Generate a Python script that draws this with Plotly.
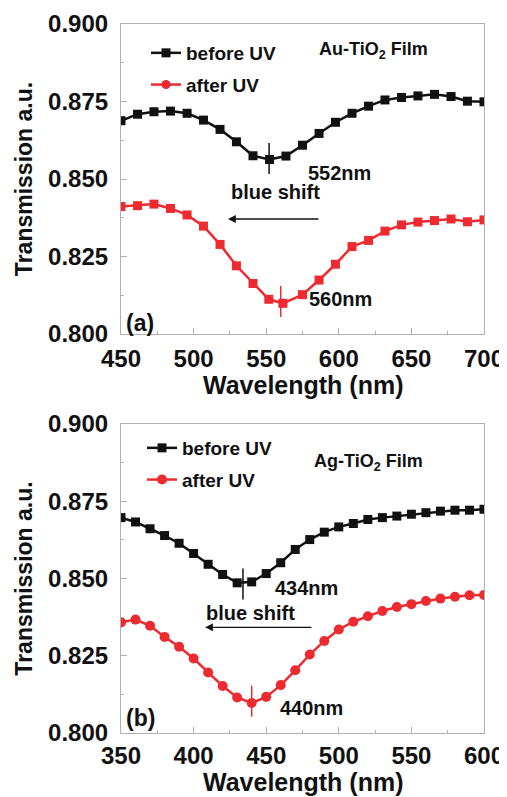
import plotly.graph_objects as go

# ---------------- data ----------------
wl_a_before = [450, 461.4, 472.7, 484.1, 495.5, 506.8, 518.2, 529.5, 540.9, 552.3, 563.6, 575.0,
               586.4, 597.7, 609.1, 620.5, 631.8, 643.2, 654.5, 665.9, 677.3, 688.6, 700]
t_a_before = [0.8688, 0.8709, 0.8717, 0.8719, 0.8712, 0.8690, 0.8660, 0.8620, 0.8575, 0.8563,
              0.8574, 0.8609, 0.8647, 0.8683, 0.8712, 0.8735, 0.8755, 0.8763, 0.8768, 0.8773,
              0.8766, 0.8751, 0.8749]
wl_a_after = [450, 461.4, 472.7, 484.1, 495.5, 506.8, 518.2, 529.5, 540.9, 551.8, 561.5, 575.0,
              586.4, 597.7, 609.1, 620.5, 631.8, 643.2, 654.5, 665.9, 677.3, 688.6, 700]
t_a_after = [0.8411, 0.8414, 0.8419, 0.8405, 0.8384, 0.8348, 0.8289, 0.8220, 0.8163, 0.8112,
             0.8099, 0.8127, 0.8174, 0.8225, 0.8282, 0.8302, 0.8332, 0.8352, 0.8361, 0.8366,
             0.8371, 0.8362, 0.8368]

wl_b = [350, 360, 370, 380, 390, 400, 410, 420, 430, 440, 450, 460, 470,
        480, 490, 500, 510, 520, 530, 540, 550, 560, 570, 580, 590, 600]
t_b_before = [0.8697, 0.8683, 0.8661, 0.8639, 0.8614, 0.8581, 0.8546, 0.8513, 0.8486, 0.8489,
              0.8516, 0.8551, 0.8594, 0.8626, 0.8650, 0.8667, 0.8678, 0.8691, 0.8697, 0.8702,
              0.8708, 0.8713, 0.8718, 0.8721, 0.8721, 0.8724]
t_b_after = [0.8358, 0.8367, 0.8347, 0.8311, 0.8279, 0.8241, 0.8196, 0.8152, 0.8115, 0.8097,
             0.8117, 0.8155, 0.8203, 0.8254, 0.8298, 0.8335, 0.8360, 0.8378, 0.8395, 0.8408,
             0.8417, 0.8427, 0.8435, 0.8441, 0.8446, 0.8447]

peaks_a = [552, 560]          # before, after (nm)
peak_vals_a = [0.8566, 0.8105]
peaks_b = [434, 440]
peak_vals_b = [0.8482, 0.8103]

x_ticks_a = [450, 500, 550, 600, 650, 700]
x_ticks_b = [350, 400, 450, 500, 550, 600]
y_ticks = [0.800, 0.825, 0.850, 0.875, 0.900]

BLACK = "#111111"
RED = "#EC2A2F"
FONT = "Liberation Sans, Arial, sans-serif"

fig = go.Figure()

# ---- panel (a) ----
fig.add_trace(go.Scatter(x=wl_a_before, y=t_a_before, mode="lines+markers", name="before UV",
                         line=dict(color=BLACK, width=2.5),
                         marker=dict(symbol="square", size=9, color=BLACK),
                         xaxis="x", yaxis="y", legend="legend", legendgroup="a1"))
fig.add_trace(go.Scatter(x=wl_a_after, y=t_a_after, mode="lines+markers", name="after UV",
                         line=dict(color=RED, width=2.5),
                         marker=dict(symbol="square", size=9, color=RED),
                         xaxis="x", yaxis="y", showlegend=False))
fig.add_trace(go.Scatter(x=[None], y=[None], mode="lines+markers", name="after UV",
                         line=dict(color=RED, width=2.5),
                         marker=dict(symbol="circle", size=9, color=RED),
                         xaxis="x", yaxis="y", legend="legend", legendgroup="a2"))

# ---- panel (b) ----
fig.add_trace(go.Scatter(x=wl_b, y=t_b_before, mode="lines+markers", name="before UV",
                         line=dict(color=BLACK, width=2.5),
                         marker=dict(symbol="square", size=9, color=BLACK),
                         xaxis="x2", yaxis="y2", legend="legend2", legendgroup="b1"))
fig.add_trace(go.Scatter(x=wl_b, y=t_b_after, mode="lines+markers", name="after UV",
                         line=dict(color=RED, width=2.5),
                         marker=dict(symbol="circle", size=10, color=RED),
                         xaxis="x2", yaxis="y2", legend="legend2", legendgroup="b2"))

W, H = 507, 797
OFF = 8  # page body margin
xdom = [(121 - OFF) / W, (484 - OFF) / W]
ydom_a = [1 - (334 - OFF) / H, 1 - (24 - OFF) / H]
ydom_b = [1 - (733 - OFF) / H, 1 - (424 - OFF) / H]

AX_COLOR = "#b0b0b0"

def xaxis(rng, ticks, anchor, standoff):
    return dict(domain=xdom, range=rng, tickvals=ticks, anchor=anchor, automargin=False,
                showline=True, linecolor=AX_COLOR, linewidth=1.2, mirror=True,
                ticks="inside", ticklen=6, tickcolor=AX_COLOR, tickwidth=1,
                minor=dict(ticks="inside", ticklen=3, dtick=25, tickcolor=AX_COLOR),
                showgrid=False, zeroline=False, ticklabelstandoff=standoff,
                tickfont=dict(family=FONT, size=24, color=BLACK, weight="bold"))

def yaxis(dom, anchor):
    return dict(domain=dom, range=[0.8, 0.9], tickvals=y_ticks, tickformat=".3f", anchor=anchor,
                automargin=False,
                showline=True, linecolor=AX_COLOR, linewidth=1.2, mirror=True,
                ticks="inside", ticklen=6, tickcolor=AX_COLOR, tickwidth=1,
                minor=dict(ticks="inside", ticklen=3, dtick=0.0125, tickcolor=AX_COLOR),
                showgrid=False, zeroline=False, ticklabelstandoff=7,
                tickfont=dict(family=FONT, size=24, color=BLACK, weight="bold"),
                title=dict(text="Transmission a.u.", standoff=8,
                           font=dict(family=FONT, size=23, color=BLACK, weight="bold")))

shapes = []
for xs, vals, ref in [(peaks_a, peak_vals_a, ("x", "y")), (peaks_b, peak_vals_b, ("x2", "y2"))]:
    for xv, yv, col in zip(xs, vals, [BLACK, RED]):
        shapes.append(dict(type="line", xref=ref[0], yref=ref[1], x0=xv, x1=xv,
                           y0=yv - 0.005, y1=yv + 0.005, line=dict(color=col, width=1.5)))

ann_font = dict(family=FONT, size=20, color=BLACK, weight="bold")
lab_font = dict(family=FONT, size=18, color=BLACK, weight="bold")
pan_font = dict(family=FONT, size=23, color=BLACK, weight="bold")
ttl_font = dict(family=FONT, size=25, color=BLACK, weight="bold")
xmid = (xdom[0] + xdom[1]) / 2
annotations = [
    dict(xref="x", yref="y", x=600.5, y=0.8519, text=f"{peaks_a[0]}nm", showarrow=False, font=ann_font),
    dict(xref="x", yref="y", x=556.7, y=0.8458, text="blue shift", showarrow=False, font=ann_font),
    dict(xref="x", yref="y", x=523.7, y=0.8371, ax=587, ay=0.8371, axref="x", ayref="y",
         text="", showarrow=True, arrowhead=2, arrowsize=1.2, arrowwidth=1.3, arrowcolor=BLACK),
    dict(xref="x", yref="y", x=601.2, y=0.8113, text=f"{peaks_a[1]}nm", showarrow=False, font=ann_font),
    dict(xref="x", yref="y", x=463.4, y=0.8035, text="(a)", showarrow=False, font=pan_font),
    dict(xref="x", yref="y", x=623.9, y=0.8916, text="Au-TiO<sub>2</sub> Film", showarrow=False, font=lab_font),

    dict(xref="x2", yref="y2", x=477.8, y=0.8469, text=f"{peaks_b[0]}nm", showarrow=False, font=ann_font),
    dict(xref="x2", yref="y2", x=439.5, y=0.8388, text="blue shift", showarrow=False, font=ann_font),
    dict(xref="x2", yref="y2", x=407.9, y=0.8342, ax=482.2, ay=0.8342, axref="x2", ayref="y2",
         text="", showarrow=True, arrowhead=2, arrowsize=1.2, arrowwidth=1.3, arrowcolor=BLACK),
    dict(xref="x2", yref="y2", x=480.9, y=0.8080, text=f"{peaks_b[1]}nm", showarrow=False, font=ann_font),
    dict(xref="x2", yref="y2", x=363.1, y=0.8048, text="(b)", showarrow=False, font=pan_font),
    dict(xref="x2", yref="y2", x=520.5, y=0.8874, text="Ag-TiO<sub>2</sub> Film", showarrow=False, font=lab_font),

    # x-axis titles
    dict(xref="paper", yref="paper", x=xmid, y=1 - (385 - OFF) / H, text="Wavelength (nm)",
         showarrow=False, font=ttl_font, xanchor="center", yanchor="middle"),
    dict(xref="paper", yref="paper", x=xmid, y=1 - (782 - OFF) / H, text="Wavelength (nm)",
         showarrow=False, font=ttl_font, xanchor="center", yanchor="middle"),
]

leg_common = dict(bgcolor="rgba(0,0,0,0)", borderwidth=0, tracegroupgap=4,
                  font=dict(family=FONT, size=19, color=BLACK, weight="bold"),
                  xanchor="left", yanchor="top", itemwidth=30)

fig.update_layout(
    width=W, height=H, margin=dict(l=0, r=0, t=0, b=0, autoexpand=False),
    paper_bgcolor="white", plot_bgcolor="white",
    xaxis=xaxis([450, 700], x_ticks_a, "y", 3),
    yaxis=yaxis(ydom_a, "x"),
    xaxis2=xaxis([350, 600], x_ticks_b, "y2", 1),
    yaxis2=yaxis(ydom_b, "x2"),
    shapes=shapes, annotations=annotations,
    legend=dict(x=138 / W, y=1 - 26 / H, **leg_common),
    legend2=dict(x=134 / W, y=1 - 421 / H, **leg_common),
)

fig.write_html("out.html")
